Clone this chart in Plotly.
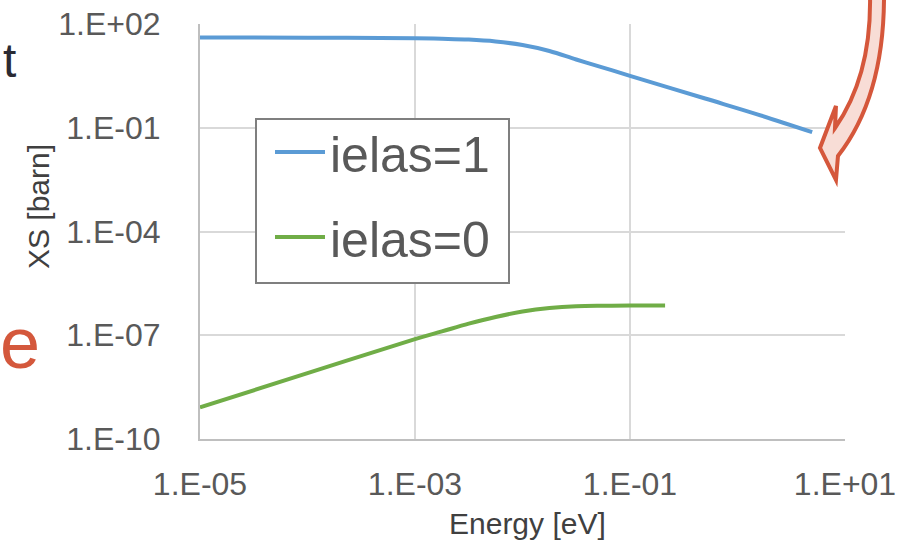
import plotly.graph_objects as go

# ---- data ----
energy_ielas1 = [1e-5, 1e-4, 1e-3, 1.78e-3, 3.16e-3, 5.62e-3, 1e-2, 1.78e-2, 3.16e-2,
                 5.62e-2, 0.1, 0.5, 1.5, 4.95]
xs_ielas1 = [41.0, 40.1, 38.6, 37.3, 35.4, 31.2, 24.7, 16.6, 9.4,
             5.48, 3.18, 0.70, 0.249, 0.0746]

energy_ielas0 = [1e-5, 1e-4, 1e-3, 1.78e-3, 3.16e-3, 5.62e-3, 1e-2, 1.78e-2, 3.16e-2,
                 5.62e-2, 0.1, 0.212]
xs_ielas0 = [8.2e-10, 8.0e-9, 7.7e-8, 1.29e-7, 2.16e-7, 3.38e-7, 4.84e-7, 6.12e-7, 6.9e-7,
             7.13e-7, 7.2e-7, 7.2e-7]

x_tickvals = [1e-5, 1e-3, 1e-1, 1e1]
x_ticktext = ["1.E-05", "1.E-03", "1.E-01", "1.E+01"]
y_tickvals = [1e-10, 1e-7, 1e-4, 1e-1, 1e2]
y_ticktext = ["1.E-10", "1.E-07", "1.E-04", "1.E-01", "1.E+02"]

W, H = 899, 544
L, R, T, B = 200, 845, 24, 439


def px(xp):
    return (xp - L) / (R - L)


def py(yp):
    return (B - yp) / (B - T)


FONT = "Liberation Sans, Arial, sans-serif"

fig = go.Figure()
fig.add_trace(go.Scatter(x=energy_ielas1, y=xs_ielas1, mode="lines", name="ielas=1",
                         line=dict(color="#5b9bd5", width=4, shape="spline", smoothing=1),
                         legendgroup="a"))
fig.add_trace(go.Scatter(x=energy_ielas0, y=xs_ielas0, mode="lines", name="ielas=0",
                         line=dict(color="#70ad47", width=4, shape="spline", smoothing=1),
                         legendgroup="b"))

# legend frame (white box with grey border, legend drawn on top of it)
fig.add_shape(type="rect", xref="paper", yref="paper",
              x0=px(256), x1=px(509), y0=py(283), y1=py(119),
              fillcolor="white", line=dict(color="#7f7f7f", width=2), layer="above")

# arrow decoration (pixel outline converted to paper coordinates)
arrow_pts = [("M", 870, -4), ("C", 871, 50, 858, 95, 835, 128), ("L", 836, 106),
             ("L", 820, 148), ("L", 836, 180), ("L", 838, 156),
             ("C", 866, 120, 884, 70, 884, -4), ("Z",)]
parts = []
for p in arrow_pts:
    if p[0] == "Z":
        parts.append("Z")
    else:
        coords = p[1:]
        s = " ".join(f"{px(coords[i]):.4f},{py(coords[i+1]):.4f}" for i in range(0, len(coords), 2))
        parts.append(p[0] + " " + s)
fig.add_shape(type="path", xref="paper", yref="paper", path=" ".join(parts),
              fillcolor="#f8ddd6", line=dict(color="#d5573b", width=4), layer="above")

annotations = [
    dict(text="Energy [eV]", x=px(527), y=py(523), xref="paper", yref="paper",
         xanchor="center", yanchor="middle",
         showarrow=False, font=dict(family=FONT, size=30, color="#404040")),
    dict(text="XS [barn]", x=px(39), y=py(207), xref="paper", yref="paper",
         xanchor="center", yanchor="middle",
         showarrow=False, textangle=-90, font=dict(family=FONT, size=30, color="#404040")),
    dict(text="t", x=px(9), y=py(60), xref="paper", yref="paper",
         xanchor="center", yanchor="middle",
         showarrow=False, font=dict(family=FONT, size=48, color="#2a2a33")),
    dict(text="e", x=px(20), y=py(343), xref="paper", yref="paper",
         xanchor="center", yanchor="middle",
         showarrow=False, font=dict(family=FONT, size=72, color="#d4583c")),
]

fig.update_layout(
    width=W, height=H, autosize=False,
    margin=dict(l=L, r=W - R, t=T, b=H - B, autoexpand=False),
    paper_bgcolor="white", plot_bgcolor="white",
    font=dict(family=FONT, color="#595959"),
    showlegend=True,
    legend=dict(x=px(256), y=py(113), xanchor="left", yanchor="top",
                bgcolor="rgba(0,0,0,0)", borderwidth=0,
                font=dict(family=FONT, size=50, color="#595959"),
                traceorder="grouped", tracegroupgap=17, itemwidth=50,
                indentation=14),
    annotations=annotations,
)
fig.update_xaxes(type="log", range=[-5, 1], tickvals=x_tickvals, ticktext=x_ticktext,
                 showgrid=True, gridcolor="#d9d9d9", gridwidth=1.5,
                 showline=True, linecolor="#bfbfbf", linewidth=2, automargin=False,
                 ticks="", ticklabelstandoff=16, zeroline=False,
                 tickfont=dict(family=FONT, size=32, color="#595959"))
fig.update_yaxes(type="log", range=[-10, 2], tickvals=y_tickvals, ticktext=y_ticktext,
                 showgrid=True, gridcolor="#d9d9d9", gridwidth=1.5,
                 showline=True, linecolor="#bfbfbf", linewidth=2, automargin=False,
                 ticks="", ticklabelstandoff=31, zeroline=False,
                 tickfont=dict(family=FONT, size=32, color="#595959"))

fig.write_html("out.html", config={"displayModeBar": False},
               post_script="document.body.style.margin='0';")
